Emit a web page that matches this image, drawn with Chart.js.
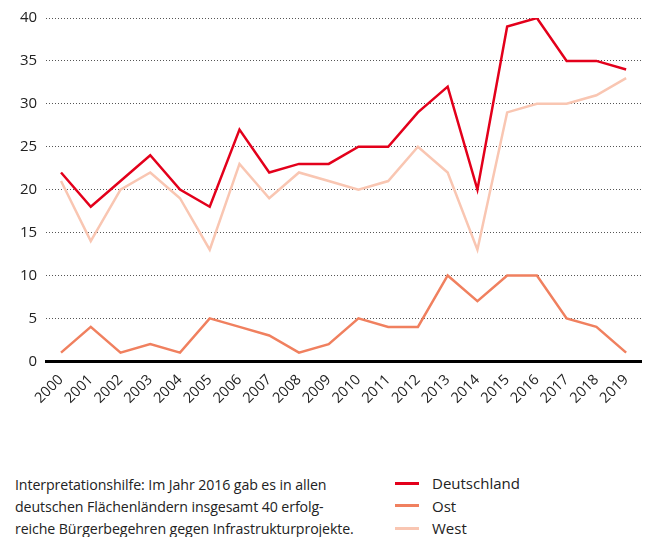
<!DOCTYPE html>
<html>
<head>
<meta charset="utf-8">
<script src="https://cdn.jsdelivr.net/npm/chart.js@4"></script>
<style>
  body { margin: 0; background: #fff; font-family: "Open Sans", "Noto Sans", sans-serif; color: #222; }
  #wrap { position: relative; width: 649px; height: 537px; }
  #chartBox { position: absolute; left: 0; top: 0; width: 649px; height: 409px; }
  #caption { position: absolute; left: 15px; top: 474px; font-size: 14.2px; line-height: 22px; letter-spacing: -0.1px; }
  #legend { position: absolute; left: 395px; top: 472px; font-size: 15px; line-height: 22.5px; }
  .item { display: flex; align-items: center; }
  .swatch { width: 24px; height: 3px; margin-right: 13px; }
</style>
</head>
<body>
<div id="wrap">
  <div id="chartBox"><canvas id="chart"></canvas></div>
  <div id="caption">Interpretationshilfe: Im Jahr 2016 gab es in allen<br>deutschen Flächenländern insgesamt 40 erfolg-<br>reiche Bürgerbegehren gegen Infrastrukturprojekte.</div>
  <div id="legend"></div>
</div>
<script>
  const years = ['2000','2001','2002','2003','2004','2005','2006','2007','2008','2009',
                 '2010','2011','2012','2013','2014','2015','2016','2017','2018','2019'];
  const deutschland = [22, 18, 21, 24, 20, 18, 27, 22, 23, 23, 25, 25, 29, 32, 20, 39, 40, 35, 35, 34];
  const ost = [1, 4, 1, 2, 1, 5, 4, 3, 1, 2, 5, 4, 4, 10, 7, 10, 10, 5, 4, 1];
  const west = [21, 14, 20, 22, 19, 13, 23, 19, 22, 21, 20, 21, 25, 22, 13, 29, 30, 30, 31, 33];

  const series = [
    { label: 'Deutschland', data: deutschland, color: '#e3001b' },
    { label: 'Ost', data: ost, color: '#f0805f' },
    { label: 'West', data: west, color: '#f9c6b2' }
  ];

  // legend
  const legend = document.getElementById('legend');
  series.forEach(s => {
    const row = document.createElement('div');
    row.className = 'item';
    row.innerHTML = `<span class="swatch" style="background:${s.color}"></span>${s.label}`;
    legend.appendChild(row);
  });

  const font = { family: '"Open Sans", "Noto Sans", sans-serif' };

  new Chart(document.getElementById('chart'), {
    type: 'line',
    data: {
      labels: years,
      datasets: series.slice().reverse().map(s => ({
        label: s.label,
        data: s.data,
        borderColor: s.color,
        backgroundColor: s.color,
        borderWidth: 2.5,
        pointRadius: 0,
        tension: 0,
        fill: false
      }))
    },
    options: {
      responsive: true,
      maintainAspectRatio: false,
      animation: false,
      layout: { padding: { left: 11, right: 8, top: 13, bottom: 0 } },
      plugins: { legend: { display: false }, tooltip: { enabled: false } },
      scales: {
        x: {
          offset: true,
          grid: { display: false },
          border: { display: true, color: '#000', width: 3 },
          ticks: {
            color: '#222',
            font: { ...font, size: 14.5 },
            minRotation: 45,
            maxRotation: 45,
            padding: 2
          }
        },
        y: {
          min: 0,
          max: 40,
          ticks: { stepSize: 5, color: '#222', font: { ...font, size: 15 }, padding: 9 },
          grid: { color: '#555', lineWidth: 1, drawTicks: false },
          border: { display: false, dash: [1, 2] }
        }
      }
    }
  });
</script>
</body>
</html>
